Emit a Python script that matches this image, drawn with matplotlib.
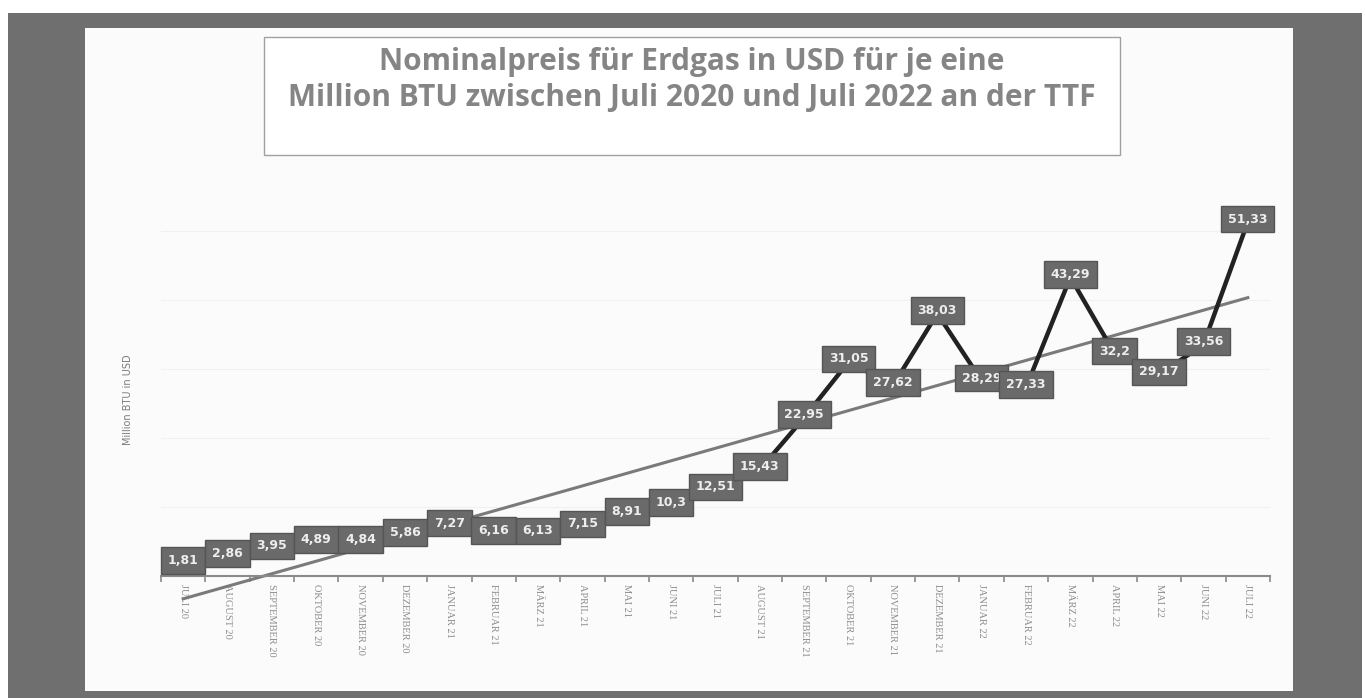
import numpy as np
import matplotlib.pyplot as plt
from matplotlib.patches import Rectangle

months = ['JULI 20', 'AUGUST 20', 'SEPTEMBER 20', 'OKTOBER 20', 'NOVEMBER 20',
          'DEZEMBER 20', 'JANUAR 21', 'FEBRUAR 21', 'MÄRZ 21', 'APRIL 21',
          'MAI 21', 'JUNI 21', 'JULI 21', 'AUGUST 21', 'SEPTEMBER 21',
          'OKTOBER 21', 'NOVEMBER 21', 'DEZEMBER 21', 'JANUAR 22', 'FEBRUAR 22',
          'MÄRZ 22', 'APRIL 22', 'MAI 22', 'JUNI 22', 'JULI 22']
prices = [1.81, 2.86, 3.95, 4.89, 4.84, 5.86, 7.27, 6.16, 6.13, 7.15,
          8.91, 10.3, 12.51, 15.43, 22.95, 31.05, 27.62, 38.03, 28.29, 27.33,
          43.29, 32.2, 29.17, 33.56, 51.33]

title = "Nominalpreis für Erdgas in USD für je eine\nMillion BTU zwischen Juli 2020 und Juli 2022 an der TTF"
y_label = "Million BTU in USD"

W, H = 1365, 698
fig = plt.figure(figsize=(W / 100, H / 100), dpi=100)
fig.patch.set_facecolor('white')

def px_rect(x0, y0, x1, y1, **kw):
    # pixel box (top-left origin) -> figure fraction rectangle
    return Rectangle((x0 / W, 1 - y1 / H), (x1 - x0) / W, (y1 - y0) / H,
                     transform=fig.transFigure, **kw)

# scanned frame
fig.patches.append(px_rect(8, 13, 1362, 698, facecolor='#6f6f6f', edgecolor='none', zorder=-3))
fig.patches.append(px_rect(85, 28, 1293, 691, facecolor='#fbfbfb', edgecolor='none', zorder=-2))
# title box
fig.patches.append(px_rect(264, 37, 1120, 155, facecolor='white', edgecolor='#a0a0a0', lw=1, zorder=-1))
fig.text(692 / W, 1 - 80 / H, title, ha='center', va='center', fontsize=21.5,
         fontweight='bold', color='#858585', family='Open Sans', linespacing=1.3)

# plot area: categories 161..1270 px, value 0 at 576 px, 6.9 px per unit
ymin, ymax = -10, 60
zero_px, ppu = 576, 6.9
top_px = zero_px - ymax * ppu
bot_px = zero_px - ymin * ppu
ax = fig.add_axes([161 / W, 1 - bot_px / H, (1270 - 161) / W, (bot_px - top_px) / H])
ax.set_facecolor('none')

x = np.arange(len(months))
ax.set_xlim(-0.5, len(months) - 0.5)
ax.set_ylim(ymin, ymax)

# linear trend line
k, d = np.polyfit(x, prices, 1)
ax.plot(x, k * x + d, color='#7a7a7a', lw=2.2, zorder=2)
ax.plot(x, prices, color='#222222', lw=3.2, zorder=3)

for xi, v in zip(x, prices):
    ax.annotate(f"{v:g}".replace('.', ','), (xi, v), xytext=(0, 2), textcoords='offset points',
                ha='center', va='center', fontsize=9, fontweight='bold', color='#eeeeee',
                bbox=dict(boxstyle='square,pad=0.55', facecolor='#6a6a6a', edgecolor='#555555', lw=1),
                zorder=4)

ax.yaxis.grid(True, color='#f1f1f1', lw=0.8)
ax.set_axisbelow(True)
ax.set_yticks(np.arange(ymin, ymax, 10))
ax.tick_params(axis='y', length=0, labelleft=False)
for s in ['top', 'right', 'left']:
    ax.spines[s].set_visible(False)
ax.spines['bottom'].set_position(('data', 0))
ax.spines['bottom'].set_color('#8a8a8a')
ax.spines['bottom'].set_linewidth(1.5)

ax.set_xticks(x)
ax.set_xticklabels(months, rotation=270, fontsize=7.5, color='#8c8c8c', family='Liberation Serif')
ax.set_xticks(np.arange(-0.5, len(months), 1), minor=True)
ax.tick_params(axis='x', which='major', length=0, pad=6)
ax.tick_params(axis='x', which='minor', length=4, color='#8a8a8a', width=1.2)

fig.text(128 / W, 1 - 400 / H, y_label, rotation=90, ha='center', va='center',
         fontsize=7, color='#7a7a7a')

fig.savefig('out.png', dpi=100, facecolor=fig.get_facecolor())
